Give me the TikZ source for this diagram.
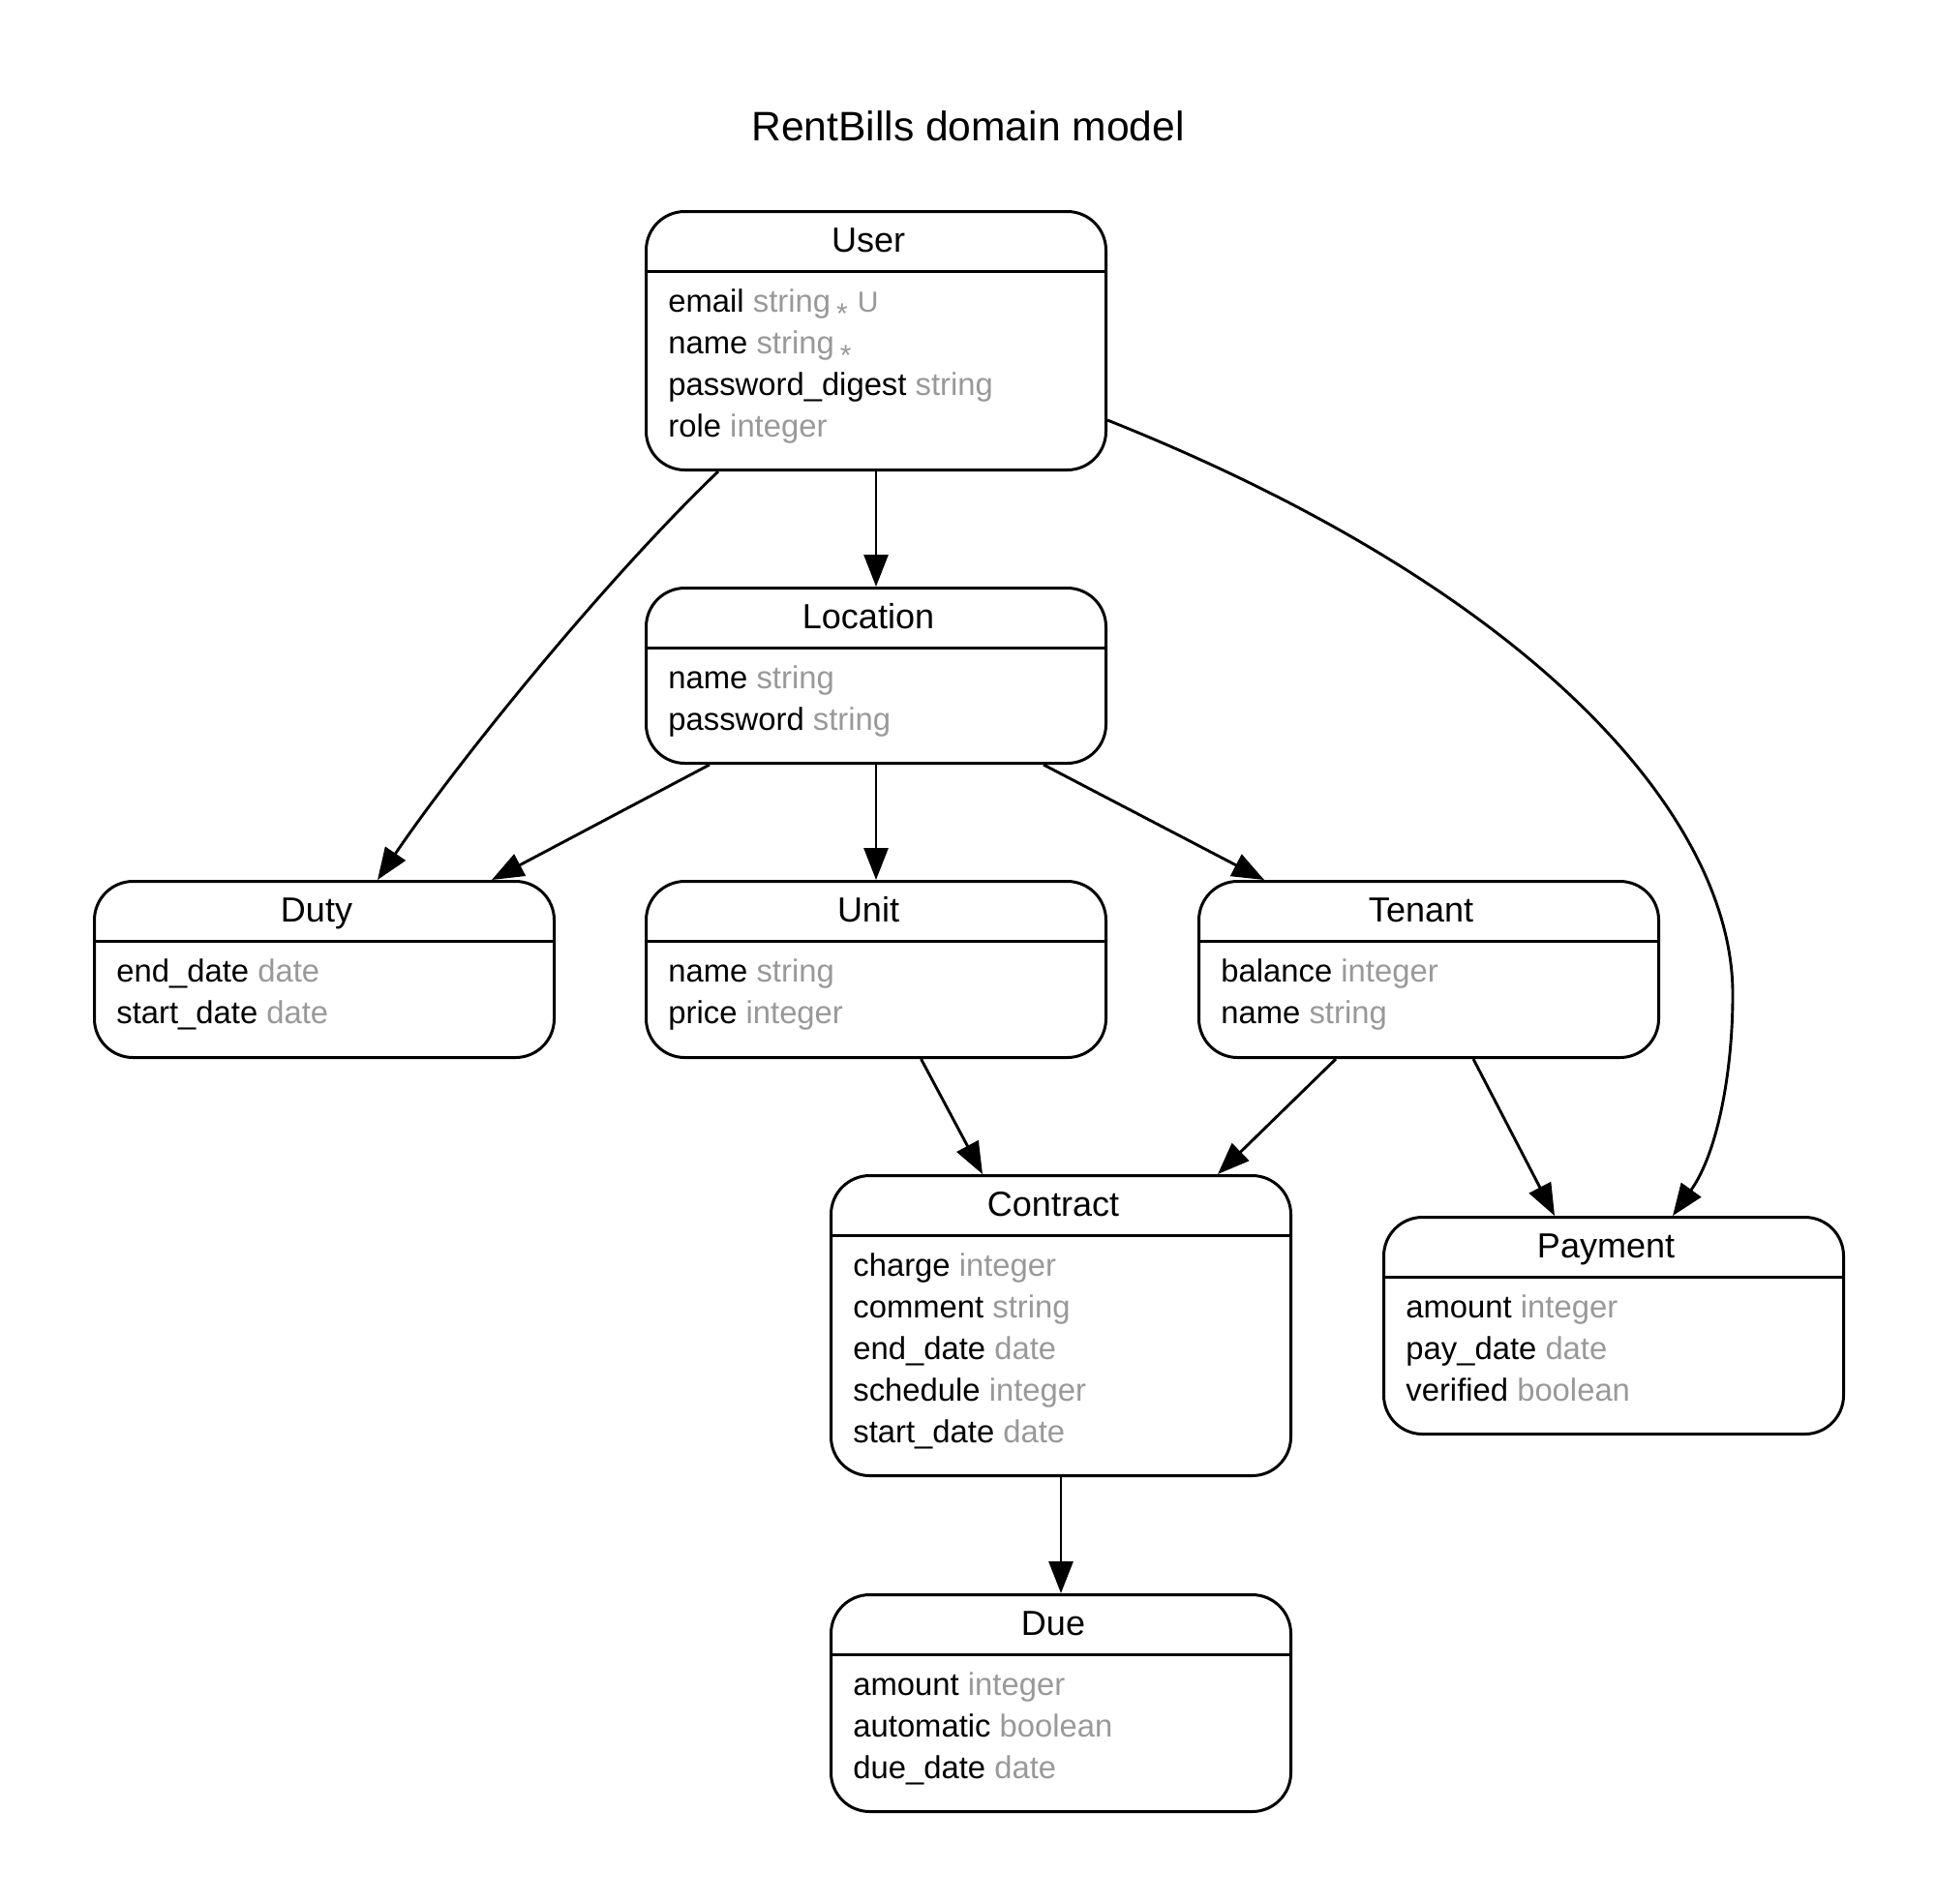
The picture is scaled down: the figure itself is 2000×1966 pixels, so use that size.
\documentclass[tikz,border=0pt]{standalone}
\usepackage{fontspec}
\setmainfont{Liberation Sans}
\usetikzlibrary{arrows.meta,calc}
\definecolor{typegray}{HTML}{999999}
\newcommand{\ty}[1]{\textcolor{typegray}{#1}}
\newcommand{\notnull}{\hspace{3pt}\raisebox{-6pt}{\fontsize{15}{15}\selectfont *}}
\newcommand{\uniq}{\hspace{5pt}{\fontsize{15}{15}\selectfont U}}
\begin{document}
\begin{tikzpicture}[x=0.5pt,y=-0.5pt,
  entity/.style={draw, line width=1.5pt, rounded corners=20pt, minimum width=237.5pt, inner sep=0pt, anchor=north west},
  sep/.style={line width=1.5pt},
  ehead/.style={font=\fontsize{18}{18}\selectfont, anchor=base, inner sep=0pt},
  attr/.style={font=\fontsize{16.4}{16.4}\selectfont, anchor=base west, inner sep=0pt},
  rel/.style={line width=1.45pt, -{Triangle[length=16.5pt,width=12.5pt]}}
]
\path[use as bounding box] (0,0) rectangle (2000,1966);

\node[font=\fontsize{21.3}{21.3}\selectfont, anchor=base, inner sep=0pt] (title) at (1000,145) {RentBills domain model};

% entities
\node[entity, minimum height=133.5pt] (user) at (666,217) {};
\node[entity, minimum height=90.5pt] (location) at (666,606) {};
\node[entity, minimum height=91pt] (duty) at (96,909) {};
\node[entity, minimum height=91pt] (unit) at (666,909) {};
\node[entity, minimum height=91pt] (tenant) at (1237,909) {};
\node[entity, minimum height=155pt] (contract) at (857,1213) {};
\node[entity, minimum height=112pt] (payment) at (1428,1256) {};
\node[entity, minimum height=112pt] (due) at (857,1646) {};

% header separators
\foreach \e in {user,location,duty,unit,tenant,contract,payment,due}{
  \draw[sep] ($(\e.north west)+(0,63)$) -- ($(\e.north east)+(0,63)$);
}

% titles
\node[ehead] (user-t) at ($(user.north)+(-8,43)$) {User};
\node[ehead] (location-t) at ($(location.north)+(-8,43)$) {Location};
\node[ehead] (duty-t) at ($(duty.north)+(-8,43)$) {Duty};
\node[ehead] (unit-t) at ($(unit.north)+(-8,43)$) {Unit};
\node[ehead] (tenant-t) at ($(tenant.north)+(-8,43)$) {Tenant};
\node[ehead] (contract-t) at ($(contract.north)+(-8,43)$) {Contract};
\node[ehead] (payment-t) at ($(payment.north)+(-8,43)$) {Payment};
\node[ehead] (due-t) at ($(due.north)+(-8,43)$) {Due};

% attributes
\node[attr] (user-1) at ($(user.north west)+(24,105)$) {email \ty{string\notnull\uniq}};
\node[attr] (user-2) at ($(user.north west)+(24,148)$) {name \ty{string\notnull}};
\node[attr] (user-3) at ($(user.north west)+(24,191)$) {password\_digest \ty{string}};
\node[attr] (user-4) at ($(user.north west)+(24,234)$) {role \ty{integer}};

\node[attr] (location-1) at ($(location.north west)+(24,105)$) {name \ty{string}};
\node[attr] (location-2) at ($(location.north west)+(24,148)$) {password \ty{string}};

\node[attr] (duty-1) at ($(duty.north west)+(24,105)$) {end\_date \ty{date}};
\node[attr] (duty-2) at ($(duty.north west)+(24,148)$) {start\_date \ty{date}};

\node[attr] (unit-1) at ($(unit.north west)+(24,105)$) {name \ty{string}};
\node[attr] (unit-2) at ($(unit.north west)+(24,148)$) {price \ty{integer}};

\node[attr] (tenant-1) at ($(tenant.north west)+(24,105)$) {balance \ty{integer}};
\node[attr] (tenant-2) at ($(tenant.north west)+(24,148)$) {name \ty{string}};

\node[attr] (contract-1) at ($(contract.north west)+(24,105)$) {charge \ty{integer}};
\node[attr] (contract-2) at ($(contract.north west)+(24,148)$) {comment \ty{string}};
\node[attr] (contract-3) at ($(contract.north west)+(24,191)$) {end\_date \ty{date}};
\node[attr] (contract-4) at ($(contract.north west)+(24,234)$) {schedule \ty{integer}};
\node[attr] (contract-5) at ($(contract.north west)+(24,277)$) {start\_date \ty{date}};

\node[attr] (payment-1) at ($(payment.north west)+(24,105)$) {amount \ty{integer}};
\node[attr] (payment-2) at ($(payment.north west)+(24,148)$) {pay\_date \ty{date}};
\node[attr] (payment-3) at ($(payment.north west)+(24,191)$) {verified \ty{boolean}};

\node[attr] (due-1) at ($(due.north west)+(24,105)$) {amount \ty{integer}};
\node[attr] (due-2) at ($(due.north west)+(24,148)$) {automatic \ty{boolean}};
\node[attr] (due-3) at ($(due.north west)+(24,191)$) {due\_date \ty{date}};

% relations
\draw[rel] (user.south) -- (location.north);
\draw[rel] (location.south) -- (unit.north);
\draw[rel] (contract.south) -- (due.north);
\draw[rel] ($(location.south west)+(67,0)$) -- ($(duty.north east)+(-66,0)$);
\draw[rel] ($(location.south east)+(-66,0)$) -- ($(tenant.north west)+(69,0)$);
\draw[rel] ($(unit.south)+(46.5,0)$) -- ($(contract.north west)+(158,0)$);
\draw[rel] ($(tenant.south west)+(143,0)$) -- ($(contract.north east)+(-77,0)$);
\draw[rel] ($(tenant.south west)+(285,0)$) -- ($(payment.north west)+(178,0)$);
\draw[rel] ($(user.south west)+(76,0)$) .. controls +(-115,110) and +(85,-125) .. ($(duty.north west)+(294,0)$);
\coordinate (umid) at (1790,1027);
\draw[rel] ($(user.south east)+(0,-53)$) .. controls +(446,178) and +(0,-180) .. (umid)
  .. controls +(0,80) and +(46.4,-65) .. ($(payment.north west)+(300,0)$);
\end{tikzpicture}
\end{document}
